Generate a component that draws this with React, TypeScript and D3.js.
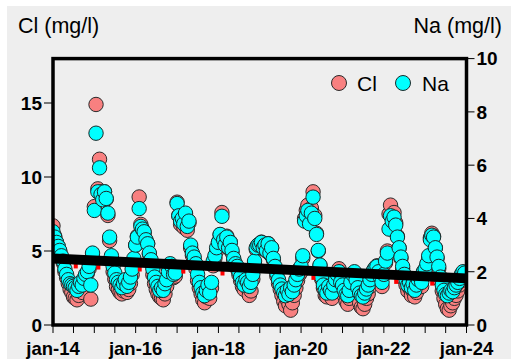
import React from "react";
import * as d3 from "d3";

const W = 511;
const H = 359;
const START_YEAR = 2014;
const SAMPLES_PER_YEAR = 24;

// Na (mg/l), semi-monthly samples, one line per year
const naValues: number[] = [
  3.5, 3.3, 3.1, 2.95, 2.8, 2.6, 2.4, 2.1, 1.9, 1.7, 1.55, 1.5, 1.45, 1.4, 1.3, 1.45, 1.6, 1.5, 1.75, 1.9, 2.0, 2.2, 1.5, 2.7,
  4.3, 7.2, 5.0, 5.9, 4.9, 4.7, 5.0, 4.75, 4.2, 3.3, 2.6, 2.2, 1.95, 1.7, 1.6, 1.5, 1.4, 1.55, 1.7, 1.45, 1.6, 1.8, 2.1, 2.5,
  3.0, 3.3, 4.37, 3.7, 3.6, 3.5, 3.2, 3.05, 2.7, 2.45, 2.1, 1.8, 1.6, 1.45, 1.3, 1.4, 1.3, 1.55, 1.7, 2.0, 2.3, 2.2, 1.9, 1.95,
  4.56, 4.1, 3.9, 4.0, 3.8, 4.2, 3.7, 3.9, 3.0, 2.7, 2.55, 2.3, 1.9, 1.6, 1.4, 1.2, 1.1, 1.3, 1.5, 1.2, 1.6, 2.4, 2.6, 2.9,
  3.1, 3.4, 4.08, 3.2, 3.0, 3.3, 2.9, 3.1, 2.8, 2.5, 2.3, 2.2, 2.0, 1.8, 1.6, 1.5, 1.7, 1.6, 1.45, 1.6, 1.9, 2.4, 2.9, 3.0,
  3.0, 3.1, 2.9, 3.0, 2.8, 3.05, 2.7, 2.9, 2.5, 2.2, 1.95, 1.7, 1.5, 1.35, 1.2, 1.1, 1.3, 1.15, 1.4, 1.25, 1.5, 1.7, 1.9, 2.1,
  2.2, 2.6, 3.9, 4.1, 4.3, 3.8, 4.2, 4.8, 4.0, 3.4, 2.8, 2.25, 1.8, 1.5, 1.3, 1.2, 1.45, 1.3, 1.2, 1.5, 1.7, 1.9, 2.0, 1.6,
  1.5, 1.3, 1.15, 1.1, 1.3, 1.6, 1.9, 2.0, 1.7, 1.4, 1.2, 1.1, 1.05, 1.2, 1.35, 1.5, 1.7, 1.9, 2.05, 2.15, 2.2, 2.0, 1.8, 1.6,
  1.9, 2.4, 2.7, 3.6, 4.1, 3.9, 4.05, 3.75, 3.3, 2.9, 2.55, 2.2, 1.9, 1.7, 1.5, 1.6, 1.4, 1.55, 1.3, 1.5, 1.7, 1.8, 1.6, 2.0,
  2.1, 2.3, 2.6, 3.2, 3.37, 3.3, 2.9, 2.55, 2.2, 1.8, 1.5, 1.3, 1.15, 1.1, 1.2, 1.3, 1.25, 1.4, 1.5, 1.6, 1.75, 1.9, 2.0, 1.95,
];

// Cl (mg/l), same sample dates
const clValues: number[] = [
  6.7, 6.0, 5.6, 5.3, 5.0, 4.6, 4.2, 3.6, 3.2, 2.8, 2.4, 2.2, 1.9, 1.8, 1.7, 2.0, 2.4, 2.2, 2.9, 3.3, 3.5, 3.8, 1.75, 4.6,
  8.0, 14.9, 9.2, 11.2, 9.0, 8.6, 9.0, 8.5, 7.4, 5.7, 4.4, 3.6, 3.1, 2.6, 2.4, 2.2, 2.1, 2.3, 2.6, 2.2, 2.4, 2.8, 3.4, 4.2,
  5.4, 6.0, 8.65, 6.8, 6.4, 6.2, 5.7, 5.5, 4.8, 4.2, 3.4, 2.8, 2.4, 2.1, 1.9, 1.8, 1.7, 2.1, 2.6, 3.2, 3.8, 3.6, 3.2, 3.3,
  8.3, 7.4, 6.8, 7.2, 6.6, 7.5, 6.4, 6.9, 5.2, 4.7, 4.3, 3.8, 3.0, 2.5, 2.1, 1.7, 1.5, 1.9, 2.3, 1.8, 2.5, 4.0, 4.5, 5.0,
  5.6, 6.1, 7.6, 5.8, 5.4, 6.0, 5.2, 5.6, 4.9, 4.4, 4.0, 3.8, 3.4, 3.0, 2.6, 2.4, 2.7, 2.5, 2.0, 2.3, 3.1, 4.1, 5.1, 5.4,
  5.4, 5.6, 5.2, 5.5, 5.0, 5.5, 4.8, 5.2, 4.4, 3.8, 3.3, 2.8, 2.4, 2.0, 1.6, 1.3, 1.7, 1.4, 1.0, 1.5, 2.0, 2.5, 3.0, 3.4,
  3.6, 4.5, 7.2, 7.75, 8.1, 7.0, 7.9, 9.0, 7.4, 6.2, 5.0, 4.0, 3.1, 2.5, 2.0, 1.9, 2.4, 2.2, 1.8, 2.6, 3.0, 3.4, 3.8, 2.7,
  2.4, 2.0, 1.6, 1.4, 1.8, 2.6, 3.3, 3.5, 2.8, 2.1, 1.5, 1.2, 1.1, 1.4, 1.8, 2.1, 2.6, 3.1, 3.5, 3.8, 4.0, 3.6, 3.1, 2.6,
  3.4, 4.2, 5.0, 7.5, 8.1, 7.2, 7.6, 6.9, 6.0, 5.2, 4.5, 3.8, 3.1, 2.7, 2.3, 2.5, 2.0, 2.3, 1.9, 2.2, 2.8, 3.0, 2.6, 3.4,
  3.5, 4.0, 4.5, 5.9, 6.2, 6.0, 5.2, 4.5, 3.8, 3.0, 2.3, 1.8, 1.4, 1.1, 1.0, 1.3, 1.5, 1.8, 2.0, 2.3, 2.7, 3.0, 3.4, 3.2,
];

const xLabelYears = [2014, 2016, 2018, 2020, 2022, 2024];
const xLabels = ["jan-14", "jan-16", "jan-18", "jan-20", "jan-22", "jan-24"];
const clTicks = [0, 5, 10, 15];
const naTicks = [0, 2, 4, 6, 8, 10];
const naTrend = [2.5, 1.75]; // at jan-14 and jan-24
const clTrend = [4.1, 2.75];
const clTrendMarks = [2014.55, 2015.1, 2016.1, 2017.15, 2018.1, 2020.3, 2022.3, 2023.17];

const CL_FILL = "#f88080";
const NA_FILL = "#00ffff";
const BG = "#eeeeee";

function sampleDate(i: number): Date {
  const y = START_YEAR + Math.floor(i / SAMPLES_PER_YEAR);
  const k = i % SAMPLES_PER_YEAR;
  return new Date(y, Math.floor(k / 2), k % 2 ? 16 : 1);
}
function decimalYear(v: number): Date {
  const y = Math.floor(v);
  return new Date(y, 0, 1 + Math.round((v - y) * 365));
}

export default function App() {
  const left = 53;
  const right = 466.5;
  const top = 58.6;
  const bottom = 325;
  const x = d3.scaleTime().domain([new Date(2014, 0, 1), new Date(2024, 0, 1)]).range([left, right]);
  const yCl = d3.scaleLinear().domain([0, 18]).range([bottom, top]);
  const yNa = d3.scaleLinear().domain([0, 10]).range([bottom, top]);
  const halfYearTicks = d3.timeMonth.every(6)!.range(new Date(2014, 0, 1), new Date(2024, 0, 2));
  const font = "Liberation Sans, Arial, sans-serif";
  const r = 7.2;
  const start = new Date(2014, 0, 1);
  const end = new Date(2024, 0, 1);

  return (
    <svg width={W} height={H} style={{ position: "absolute", left: 0, top: 0 }} fontFamily={font}>
      <rect x={0} y={0} width={W} height={H} fill="#ffffff" />
      <rect x={7} y={6} width={W - 7} height={H - 6} fill={BG} />
      <defs>
        <clipPath id="plotclip">
          <rect x={left} y={top} width={right - left} height={bottom - top} />
        </clipPath>
      </defs>
      <g clipPath="url(#plotclip)">
        {clValues.map((v, i) => (
          <circle key={"c" + i} cx={x(sampleDate(i))} cy={yCl(v)} r={r} fill={CL_FILL} stroke="#2a2a2a" strokeWidth={1} />
        ))}
        {naValues.map((v, i) => (
          <circle key={"n" + i} cx={x(sampleDate(i))} cy={yNa(v)} r={r} fill={NA_FILL} stroke="#1a2a2a" strokeWidth={1} />
        ))}
        {clTrendMarks.map((d, i) => {
          const dt = decimalYear(d);
          const t = (dt.getTime() - start.getTime()) / (end.getTime() - start.getTime());
          const cy = yCl(clTrend[0] + (clTrend[1] - clTrend[0]) * t);
          return <rect key={"m" + i} x={x(dt) - 2} y={cy - 3} width={4} height={6} fill="#ff0000" />;
        })}
        <line x1={x(start)} y1={yNa(naTrend[0])} x2={x(end)} y2={yNa(naTrend[1])} stroke="#000" strokeWidth={10} />
      </g>
      {/* frame */}
      <rect x={left} y={top} width={right - left} height={bottom - top} fill="none" stroke="#000" strokeWidth={3.5} />
      {/* left axis */}
      {clTicks.map((t) => (
        <g key={"lt" + t}>
          <line x1={left - 9} x2={left} y1={yCl(t)} y2={yCl(t)} stroke="#000" strokeWidth={1} />
          <text x={left - 11} y={yCl(t) + 6.8} textAnchor="end" fontSize={19} fontWeight="bold">{t}</text>
        </g>
      ))}
      {/* right axis */}
      {naTicks.map((t) => (
        <g key={"rt" + t}>
          <line x1={right} x2={right + 8} y1={yNa(t)} y2={yNa(t)} stroke="#000" strokeWidth={1} />
          <text x={right + 10} y={yNa(t) + 6.8} textAnchor="start" fontSize={19} fontWeight="bold">{t}</text>
        </g>
      ))}
      {/* bottom axis */}
      {halfYearTicks.map((d, i) => (
        <line key={"bt" + i} x1={x(d)} x2={x(d)} y1={bottom} y2={bottom + 8} stroke="#000" strokeWidth={1} />
      ))}
      {xLabelYears.map((yr, i) => (
        <text key={"xl" + yr} x={x(new Date(yr, 0, 1))} y={355} textAnchor="middle" fontSize={18.5} fontWeight="bold">
          {xLabels[i]}
        </text>
      ))}
      {/* axis titles */}
      <text x={18} y={33} fontSize={21.5}>Cl (mg/l)</text>
      <text x={502} y={33} fontSize={21.5} textAnchor="end">Na (mg/l)</text>
      {/* legend */}
      <circle cx={339} cy={83} r={7.5} fill={CL_FILL} stroke="#2a2a2a" strokeWidth={1} />
      <text x={357} y={91} fontSize={21}>Cl</text>
      <circle cx={403} cy={83} r={7.5} fill={NA_FILL} stroke="#1a2a2a" strokeWidth={1} />
      <text x={422} y={91} fontSize={21}>Na</text>
    </svg>
  );
}
